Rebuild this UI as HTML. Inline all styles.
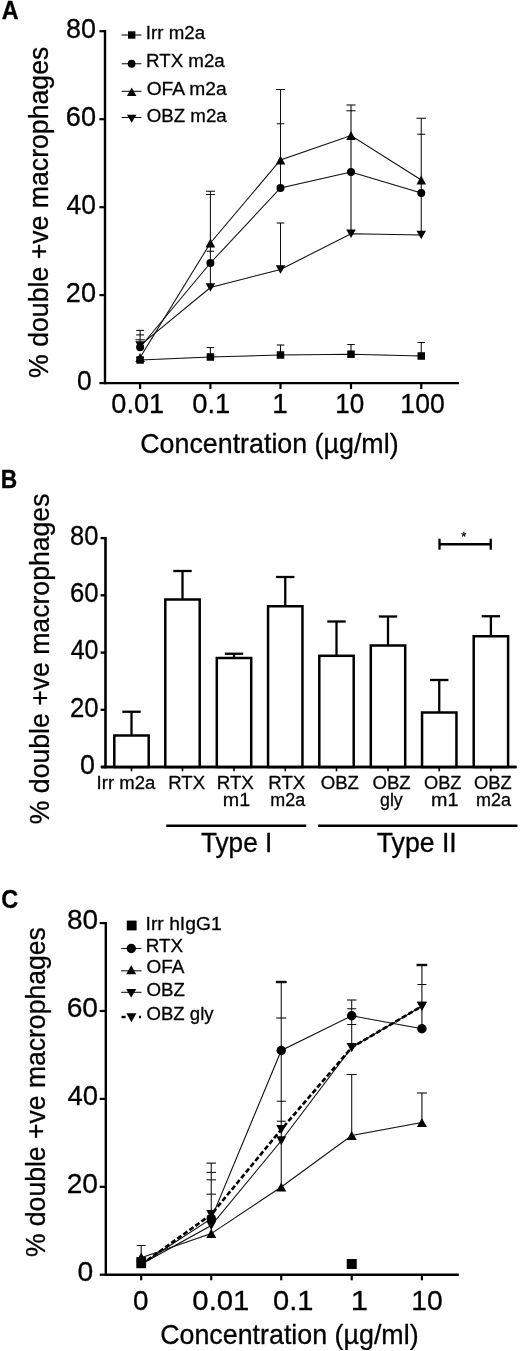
<!DOCTYPE html>
<html lang="en"><head><meta charset="utf-8"><title>Figure</title>
<style>
html,body{margin:0;padding:0;background:#fff;}
svg{display:block;}
svg text{font-family:"Liberation Sans", Arial, Helvetica, sans-serif;fill:#000;stroke:#000;stroke-width:0.3px;stroke-linejoin:round;}
</style></head><body>
<svg width="520" height="1351" viewBox="0 0 520 1351">
<rect width="520" height="1351" fill="#fff"/>
<defs><filter id="soft" x="0" y="0" width="520" height="1351" filterUnits="userSpaceOnUse"><feGaussianBlur stdDeviation="0.45"/></filter></defs>
<g filter="url(#soft)">
<line x1="105.00" y1="30.00" x2="105.00" y2="384.30" stroke="#000" stroke-width="2.4" />
<line x1="105.00" y1="383.10" x2="459.00" y2="383.10" stroke="#000" stroke-width="2.4" />
<line x1="99.40" y1="31.20" x2="105.00" y2="31.20" stroke="#000" stroke-width="2.2" />
<text x="66.06" y="37.90" font-size="26.8" textLength="29.91" lengthAdjust="spacingAndGlyphs" >80</text>
<line x1="99.40" y1="119.20" x2="105.00" y2="119.20" stroke="#000" stroke-width="2.2" />
<text x="65.85" y="125.90" font-size="26.8" textLength="30.13" lengthAdjust="spacingAndGlyphs" >60</text>
<line x1="99.40" y1="207.20" x2="105.00" y2="207.20" stroke="#000" stroke-width="2.2" />
<text x="66.61" y="213.90" font-size="26.8" textLength="29.34" lengthAdjust="spacingAndGlyphs" >40</text>
<line x1="99.40" y1="295.10" x2="105.00" y2="295.10" stroke="#000" stroke-width="2.2" />
<text x="65.85" y="301.80" font-size="26.8" textLength="30.13" lengthAdjust="spacingAndGlyphs" >20</text>
<line x1="99.40" y1="383.10" x2="105.00" y2="383.10" stroke="#000" stroke-width="2.2" />
<text x="77.04" y="389.90" font-size="26.8" textLength="14.68" lengthAdjust="spacingAndGlyphs" >0</text>
<line x1="140.10" y1="383.10" x2="140.10" y2="389.00" stroke="#000" stroke-width="2.2" />
<line x1="210.40" y1="383.10" x2="210.40" y2="389.00" stroke="#000" stroke-width="2.2" />
<line x1="280.50" y1="383.10" x2="280.50" y2="389.00" stroke="#000" stroke-width="2.2" />
<line x1="351.00" y1="383.10" x2="351.00" y2="389.00" stroke="#000" stroke-width="2.2" />
<line x1="421.25" y1="383.10" x2="421.25" y2="389.00" stroke="#000" stroke-width="2.2" />
<text x="111.32" y="413.30" font-size="26.8" textLength="52.79" lengthAdjust="spacingAndGlyphs" >0.01</text>
<text x="192.20" y="413.30" font-size="26.8" textLength="38.08" lengthAdjust="spacingAndGlyphs" >0.1</text>
<text x="272.26" y="413.30" font-size="26.8" textLength="15.58" lengthAdjust="spacingAndGlyphs" >1</text>
<text x="335.20" y="413.30" font-size="26.8" textLength="29.04" lengthAdjust="spacingAndGlyphs" >10</text>
<text x="400.37" y="413.30" font-size="26.8" textLength="44.36" lengthAdjust="spacingAndGlyphs" >100</text>
<text x="140.26" y="452.60" font-size="27.8" textLength="258.33" lengthAdjust="spacingAndGlyphs" >Concentration (µg/ml)</text>
<text transform="translate(48.3,377) rotate(-90)" x="-0.93" y="0" font-size="27.8" textLength="331.27" lengthAdjust="spacingAndGlyphs">% double +ve macrophages</text>
<text x="1.72" y="19.10" font-size="25" font-weight="bold" textLength="16.82" lengthAdjust="spacingAndGlyphs" >A</text>
<line x1="121.70" y1="35.00" x2="141.40" y2="35.00" stroke="#0a0a0a" stroke-width="1.05" />
<line x1="121.70" y1="63.75" x2="141.40" y2="63.75" stroke="#0a0a0a" stroke-width="1.05" />
<line x1="121.70" y1="91.30" x2="141.40" y2="91.30" stroke="#0a0a0a" stroke-width="1.05" />
<line x1="121.70" y1="117.50" x2="141.40" y2="117.50" stroke="#0a0a0a" stroke-width="1.05" />
<rect x="128.00" y="31.30" width="7.4" height="7.4" fill="#000"/>
<circle cx="131.60" cy="63.75" r="3.9" fill="#000"/>
<polygon points="131.70,87.45 136.45,95.95 126.95,95.95" fill="#000"/>
<polygon points="131.70,122.80 136.45,114.80 126.95,114.80" fill="#000"/>
<text x="145.87" y="38.90" font-size="19.1" textLength="59.27" lengthAdjust="spacingAndGlyphs" >Irr m2a</text>
<text x="146.06" y="67.00" font-size="19.1" textLength="78.65" lengthAdjust="spacingAndGlyphs" >RTX m2a</text>
<text x="146.69" y="94.60" font-size="19.1" textLength="80.03" lengthAdjust="spacingAndGlyphs" >OFA m2a</text>
<text x="146.71" y="122.30" font-size="19.1" textLength="80.01" lengthAdjust="spacingAndGlyphs" >OBZ m2a</text>
<line x1="136.35" y1="357.50" x2="143.85" y2="357.50" stroke="#0a0a0a" stroke-width="1.05" />
<line x1="206.65" y1="347.50" x2="214.15" y2="347.50" stroke="#0a0a0a" stroke-width="1.05" />
<line x1="276.75" y1="345.00" x2="284.25" y2="345.00" stroke="#0a0a0a" stroke-width="1.05" />
<line x1="347.25" y1="344.50" x2="354.75" y2="344.50" stroke="#0a0a0a" stroke-width="1.05" />
<line x1="417.50" y1="342.50" x2="425.00" y2="342.50" stroke="#0a0a0a" stroke-width="1.05" />
<line x1="136.20" y1="330.40" x2="144.00" y2="330.40" stroke="#0a0a0a" stroke-width="1.05" />
<line x1="136.20" y1="334.90" x2="144.00" y2="334.90" stroke="#0a0a0a" stroke-width="1.05" />
<line x1="135.50" y1="339.80" x2="144.70" y2="339.80" stroke="#0a0a0a" stroke-width="1.05" />
<line x1="205.90" y1="191.25" x2="214.90" y2="191.25" stroke="#0a0a0a" stroke-width="1.05" />
<line x1="205.90" y1="194.50" x2="214.90" y2="194.50" stroke="#0a0a0a" stroke-width="1.05" />
<line x1="206.65" y1="251.25" x2="214.15" y2="251.25" stroke="#0a0a0a" stroke-width="1.05" />
<line x1="276.00" y1="89.50" x2="285.00" y2="89.50" stroke="#0a0a0a" stroke-width="1.05" />
<line x1="276.75" y1="123.75" x2="284.25" y2="123.75" stroke="#0a0a0a" stroke-width="1.05" />
<line x1="276.75" y1="223.00" x2="284.25" y2="223.00" stroke="#0a0a0a" stroke-width="1.05" />
<line x1="346.50" y1="105.00" x2="355.50" y2="105.00" stroke="#0a0a0a" stroke-width="1.05" />
<line x1="346.50" y1="110.75" x2="355.50" y2="110.75" stroke="#0a0a0a" stroke-width="1.05" />
<line x1="416.50" y1="118.25" x2="426.00" y2="118.25" stroke="#0a0a0a" stroke-width="1.05" />
<line x1="417.25" y1="134.25" x2="425.25" y2="134.25" stroke="#0a0a0a" stroke-width="1.05" />
<line x1="140.10" y1="330.40" x2="140.10" y2="350.00" stroke="#0a0a0a" stroke-width="1.05" />
<line x1="140.10" y1="357.50" x2="140.10" y2="360.00" stroke="#0a0a0a" stroke-width="1.05" />
<line x1="210.40" y1="191.25" x2="210.40" y2="287.50" stroke="#0a0a0a" stroke-width="1.05" />
<line x1="210.40" y1="347.50" x2="210.40" y2="357.00" stroke="#0a0a0a" stroke-width="1.05" />
<line x1="280.50" y1="89.50" x2="280.50" y2="188.00" stroke="#0a0a0a" stroke-width="1.05" />
<line x1="280.50" y1="223.00" x2="280.50" y2="269.50" stroke="#0a0a0a" stroke-width="1.05" />
<line x1="280.50" y1="345.00" x2="280.50" y2="355.00" stroke="#0a0a0a" stroke-width="1.05" />
<line x1="351.00" y1="105.00" x2="351.00" y2="233.75" stroke="#0a0a0a" stroke-width="1.05" />
<line x1="351.00" y1="344.50" x2="351.00" y2="354.25" stroke="#0a0a0a" stroke-width="1.05" />
<line x1="421.25" y1="118.25" x2="421.25" y2="235.00" stroke="#0a0a0a" stroke-width="1.05" />
<line x1="421.25" y1="342.50" x2="421.25" y2="356.00" stroke="#0a0a0a" stroke-width="1.05" />
<polyline points="140.10,360.00 210.40,357.00 280.50,355.00 351.00,354.25 421.25,356.00" fill="none" stroke="#0a0a0a" stroke-width="1.05" />
<polyline points="140.10,347.25 210.40,263.00 280.50,188.00 351.00,172.00 421.25,193.00" fill="none" stroke="#0a0a0a" stroke-width="1.05" />
<polyline points="140.10,357.50 210.40,243.00 280.50,160.00 351.00,135.50 421.25,180.00" fill="none" stroke="#0a0a0a" stroke-width="1.05" />
<polyline points="140.10,345.40 210.40,287.50 280.50,269.50 351.00,233.75 421.25,235.00" fill="none" stroke="#0a0a0a" stroke-width="1.05" />
<rect x="136.35" y="356.25" width="7.5" height="7.5" fill="#000"/>
<rect x="206.65" y="353.25" width="7.5" height="7.5" fill="#000"/>
<rect x="276.75" y="351.25" width="7.5" height="7.5" fill="#000"/>
<rect x="347.25" y="350.50" width="7.5" height="7.5" fill="#000"/>
<rect x="417.50" y="352.25" width="7.5" height="7.5" fill="#000"/>
<circle cx="140.10" cy="347.25" r="4" fill="#000"/>
<circle cx="210.40" cy="263.00" r="4" fill="#000"/>
<circle cx="280.50" cy="188.00" r="4" fill="#000"/>
<circle cx="351.00" cy="172.00" r="4" fill="#000"/>
<circle cx="421.25" cy="193.00" r="4" fill="#000"/>
<polygon points="140.10,353.00 144.85,362.00 135.35,362.00" fill="#000"/>
<polygon points="210.40,238.50 215.15,247.50 205.65,247.50" fill="#000"/>
<polygon points="280.50,155.50 285.25,164.50 275.75,164.50" fill="#000"/>
<polygon points="351.00,131.00 355.75,140.00 346.25,140.00" fill="#000"/>
<polygon points="421.25,175.50 426.00,184.50 416.50,184.50" fill="#000"/>
<polygon points="140.10,349.65 144.85,341.15 135.35,341.15" fill="#000"/>
<polygon points="210.40,291.75 215.15,283.25 205.65,283.25" fill="#000"/>
<polygon points="280.50,273.75 285.25,265.25 275.75,265.25" fill="#000"/>
<polygon points="351.00,238.00 355.75,229.50 346.25,229.50" fill="#000"/>
<polygon points="421.25,239.25 426.00,230.75 416.50,230.75" fill="#000"/>
<line x1="105.50" y1="536.90" x2="105.50" y2="768.30" stroke="#000" stroke-width="2.6" />
<line x1="101.00" y1="767.00" x2="516.50" y2="767.00" stroke="#000" stroke-width="2.6" />
<line x1="100.60" y1="538.10" x2="105.50" y2="538.10" stroke="#000" stroke-width="2.3" />
<text x="70.11" y="544.80" font-size="26.8" textLength="28.40" lengthAdjust="spacingAndGlyphs" >80</text>
<line x1="100.60" y1="595.30" x2="105.50" y2="595.30" stroke="#000" stroke-width="2.3" />
<text x="69.91" y="602.00" font-size="26.8" textLength="28.61" lengthAdjust="spacingAndGlyphs" >60</text>
<line x1="100.60" y1="652.60" x2="105.50" y2="652.60" stroke="#000" stroke-width="2.3" />
<text x="70.64" y="659.30" font-size="26.8" textLength="27.86" lengthAdjust="spacingAndGlyphs" >40</text>
<line x1="100.60" y1="709.80" x2="105.50" y2="709.80" stroke="#000" stroke-width="2.3" />
<text x="69.91" y="716.50" font-size="26.8" textLength="28.61" lengthAdjust="spacingAndGlyphs" >20</text>
<line x1="100.60" y1="767.00" x2="105.50" y2="767.00" stroke="#000" stroke-width="2.3" />
<text x="80.03" y="773.80" font-size="26.8" textLength="14.91" lengthAdjust="spacingAndGlyphs" >0</text>
<text x="0.66" y="487.90" font-size="25" font-weight="bold" textLength="16.46" lengthAdjust="spacingAndGlyphs" >B</text>
<text transform="translate(48.7,823.3) rotate(-90)" x="-0.93" y="0" font-size="27.8" textLength="330.67" lengthAdjust="spacingAndGlyphs">% double +ve macrophages</text>
<line x1="131.50" y1="735.50" x2="131.50" y2="711.75" stroke="#000" stroke-width="2.3" />
<line x1="122.30" y1="711.75" x2="140.70" y2="711.75" stroke="#000" stroke-width="2.3" />
<rect x="114.30" y="735.50" width="34.4" height="31.50" fill="#fff" stroke="#000" stroke-width="2.5"/>
<line x1="131.50" y1="767.00" x2="131.50" y2="771.30" stroke="#000" stroke-width="1.6" />
<line x1="182.50" y1="599.50" x2="182.50" y2="571.00" stroke="#000" stroke-width="2.3" />
<line x1="173.30" y1="571.00" x2="191.70" y2="571.00" stroke="#000" stroke-width="2.3" />
<rect x="165.30" y="599.50" width="34.4" height="167.50" fill="#fff" stroke="#000" stroke-width="2.5"/>
<line x1="182.50" y1="767.00" x2="182.50" y2="771.30" stroke="#000" stroke-width="1.6" />
<line x1="234.00" y1="658.00" x2="234.00" y2="653.75" stroke="#000" stroke-width="2.3" />
<line x1="224.80" y1="653.75" x2="243.20" y2="653.75" stroke="#000" stroke-width="2.3" />
<rect x="216.80" y="658.00" width="34.4" height="109.00" fill="#fff" stroke="#000" stroke-width="2.5"/>
<line x1="234.00" y1="767.00" x2="234.00" y2="771.30" stroke="#000" stroke-width="1.6" />
<line x1="285.25" y1="606.25" x2="285.25" y2="577.00" stroke="#000" stroke-width="2.3" />
<line x1="276.05" y1="577.00" x2="294.45" y2="577.00" stroke="#000" stroke-width="2.3" />
<rect x="268.05" y="606.25" width="34.4" height="160.75" fill="#fff" stroke="#000" stroke-width="2.5"/>
<line x1="285.25" y1="767.00" x2="285.25" y2="771.30" stroke="#000" stroke-width="1.6" />
<line x1="336.50" y1="655.80" x2="336.50" y2="621.50" stroke="#000" stroke-width="2.3" />
<line x1="327.30" y1="621.50" x2="345.70" y2="621.50" stroke="#000" stroke-width="2.3" />
<rect x="319.30" y="655.80" width="34.4" height="111.20" fill="#fff" stroke="#000" stroke-width="2.5"/>
<line x1="336.50" y1="767.00" x2="336.50" y2="771.30" stroke="#000" stroke-width="1.6" />
<line x1="388.00" y1="645.50" x2="388.00" y2="616.50" stroke="#000" stroke-width="2.3" />
<line x1="378.80" y1="616.50" x2="397.20" y2="616.50" stroke="#000" stroke-width="2.3" />
<rect x="370.80" y="645.50" width="34.4" height="121.50" fill="#fff" stroke="#000" stroke-width="2.5"/>
<line x1="388.00" y1="767.00" x2="388.00" y2="771.30" stroke="#000" stroke-width="1.6" />
<line x1="439.25" y1="712.50" x2="439.25" y2="680.00" stroke="#000" stroke-width="2.3" />
<line x1="430.05" y1="680.00" x2="448.45" y2="680.00" stroke="#000" stroke-width="2.3" />
<rect x="422.05" y="712.50" width="34.4" height="54.50" fill="#fff" stroke="#000" stroke-width="2.5"/>
<line x1="439.25" y1="767.00" x2="439.25" y2="771.30" stroke="#000" stroke-width="1.6" />
<line x1="490.90" y1="636.25" x2="490.90" y2="616.25" stroke="#000" stroke-width="2.3" />
<line x1="481.70" y1="616.25" x2="500.10" y2="616.25" stroke="#000" stroke-width="2.3" />
<rect x="473.70" y="636.25" width="34.4" height="130.75" fill="#fff" stroke="#000" stroke-width="2.5"/>
<line x1="490.90" y1="767.00" x2="490.90" y2="771.30" stroke="#000" stroke-width="1.6" />
<line x1="101.00" y1="767.00" x2="516.50" y2="767.00" stroke="#000" stroke-width="2.6" />
<line x1="439.50" y1="544.25" x2="490.75" y2="544.25" stroke="#000" stroke-width="2.3" />
<line x1="439.50" y1="538.70" x2="439.50" y2="549.70" stroke="#000" stroke-width="2.3" />
<line x1="490.75" y1="538.70" x2="490.75" y2="549.70" stroke="#000" stroke-width="2.3" />
<text x="463.9" y="541" font-size="13" text-anchor="middle">*</text>
<text x="96.58" y="788.60" font-size="19.1" textLength="58.75" lengthAdjust="spacingAndGlyphs" >Irr m2a</text>
<text x="168.27" y="788.60" font-size="19.1" textLength="36.84" lengthAdjust="spacingAndGlyphs" >RTX</text>
<text x="216.76" y="788.60" font-size="19.1" textLength="37.11" lengthAdjust="spacingAndGlyphs" >RTX</text>
<text x="268.26" y="788.60" font-size="19.1" textLength="37.05" lengthAdjust="spacingAndGlyphs" >RTX</text>
<text x="320.66" y="788.60" font-size="19.1" textLength="38.36" lengthAdjust="spacingAndGlyphs" >OBZ</text>
<text x="372.41" y="788.60" font-size="19.1" textLength="38.36" lengthAdjust="spacingAndGlyphs" >OBZ</text>
<text x="423.93" y="788.60" font-size="19.1" textLength="37.58" lengthAdjust="spacingAndGlyphs" >OBZ</text>
<text x="473.92" y="788.60" font-size="19.1" textLength="37.94" lengthAdjust="spacingAndGlyphs" >OBZ</text>
<text x="222.72" y="806.40" font-size="19.1" textLength="27.39" lengthAdjust="spacingAndGlyphs" >m1</text>
<text x="270.34" y="806.40" font-size="19.1" textLength="34.87" lengthAdjust="spacingAndGlyphs" >m2a</text>
<text x="380.04" y="806.40" font-size="19.1" textLength="22.71" lengthAdjust="spacingAndGlyphs" >gly</text>
<text x="430.97" y="806.40" font-size="19.1" textLength="27.39" lengthAdjust="spacingAndGlyphs" >m1</text>
<text x="476.08" y="806.40" font-size="19.1" textLength="35.02" lengthAdjust="spacingAndGlyphs" >m2a</text>
<line x1="166.25" y1="825.70" x2="306.25" y2="825.70" stroke="#000" stroke-width="2.4" />
<line x1="318.00" y1="825.70" x2="517.50" y2="825.70" stroke="#000" stroke-width="2.4" />
<text x="201.01" y="852.00" font-size="27" textLength="71.24" lengthAdjust="spacingAndGlyphs" >Type I</text>
<text x="376.80" y="852.00" font-size="27" textLength="79.94" lengthAdjust="spacingAndGlyphs" >Type II</text>
<line x1="105.80" y1="922.00" x2="105.80" y2="1275.90" stroke="#000" stroke-width="2.4" />
<line x1="105.80" y1="1274.70" x2="458.80" y2="1274.70" stroke="#000" stroke-width="2.4" />
<line x1="99.70" y1="923.10" x2="105.80" y2="923.10" stroke="#000" stroke-width="2.2" />
<text x="66.91" y="929.40" font-size="28" textLength="31.10" lengthAdjust="spacingAndGlyphs" >80</text>
<line x1="99.70" y1="1011.00" x2="105.80" y2="1011.00" stroke="#000" stroke-width="2.2" />
<text x="66.69" y="1017.30" font-size="28" textLength="31.33" lengthAdjust="spacingAndGlyphs" >60</text>
<line x1="99.70" y1="1098.90" x2="105.80" y2="1098.90" stroke="#000" stroke-width="2.2" />
<text x="67.48" y="1105.20" font-size="28" textLength="30.51" lengthAdjust="spacingAndGlyphs" >40</text>
<line x1="99.70" y1="1186.80" x2="105.80" y2="1186.80" stroke="#000" stroke-width="2.2" />
<text x="66.69" y="1193.10" font-size="28" textLength="31.33" lengthAdjust="spacingAndGlyphs" >20</text>
<line x1="99.70" y1="1274.70" x2="105.80" y2="1274.70" stroke="#000" stroke-width="2.2" />
<text x="77.57" y="1281.10" font-size="28" textLength="15.72" lengthAdjust="spacingAndGlyphs" >0</text>
<line x1="141.20" y1="1274.70" x2="141.20" y2="1280.30" stroke="#000" stroke-width="2.2" />
<line x1="211.25" y1="1274.70" x2="211.25" y2="1280.30" stroke="#000" stroke-width="2.2" />
<line x1="281.25" y1="1274.70" x2="281.25" y2="1280.30" stroke="#000" stroke-width="2.2" />
<line x1="351.70" y1="1274.70" x2="351.70" y2="1280.30" stroke="#000" stroke-width="2.2" />
<line x1="421.90" y1="1274.70" x2="421.90" y2="1280.30" stroke="#000" stroke-width="2.2" />
<text x="133.09" y="1309.70" font-size="28" textLength="15.49" lengthAdjust="spacingAndGlyphs" >0</text>
<text x="192.33" y="1309.70" font-size="28" textLength="57.08" lengthAdjust="spacingAndGlyphs" >0.01</text>
<text x="273.14" y="1309.70" font-size="28" textLength="40.43" lengthAdjust="spacingAndGlyphs" >0.1</text>
<text x="350.89" y="1309.70" font-size="28" textLength="17.30" lengthAdjust="spacingAndGlyphs" >1</text>
<text x="411.20" y="1309.70" font-size="28" textLength="31.42" lengthAdjust="spacingAndGlyphs" >10</text>
<text x="160.16" y="1343.60" font-size="27.8" textLength="258.43" lengthAdjust="spacingAndGlyphs" >Concentration (µg/ml)</text>
<text transform="translate(45.4,1256.2) rotate(-90)" x="-0.93" y="0" font-size="27.8" textLength="329.86" lengthAdjust="spacingAndGlyphs">% double +ve macrophages</text>
<text x="1.26" y="907.90" font-size="25" font-weight="bold" textLength="16.98" lengthAdjust="spacingAndGlyphs" >C</text>
<line x1="121.20" y1="948.50" x2="141.50" y2="948.50" stroke="#0a0a0a" stroke-width="1.05" />
<line x1="121.20" y1="970.80" x2="141.50" y2="970.80" stroke="#0a0a0a" stroke-width="1.05" />
<line x1="121.20" y1="992.30" x2="141.50" y2="992.30" stroke="#0a0a0a" stroke-width="1.05" />
<line x1="121.50" y1="1017.00" x2="125.60" y2="1017.00" stroke="#000" stroke-width="2.4" />
<line x1="139.00" y1="1017.00" x2="141.00" y2="1017.00" stroke="#000" stroke-width="2.4" />
<rect x="126.80" y="920.60" width="9.8" height="9.8" fill="#000"/>
<circle cx="131.30" cy="948.50" r="4.7" fill="#000"/>
<polygon points="131.20,965.20 136.20,974.20 126.20,974.20" fill="#000"/>
<polygon points="131.20,997.70 136.20,989.10 126.20,989.10" fill="#000"/>
<polygon points="131.40,1022.20 136.40,1013.20 126.40,1013.20" fill="#000"/>
<text x="145.62" y="929.90" font-size="19.1" textLength="76.00" lengthAdjust="spacingAndGlyphs" >Irr hIgG1</text>
<text x="145.84" y="952.30" font-size="19.1" textLength="37.37" lengthAdjust="spacingAndGlyphs" >RTX</text>
<text x="146.50" y="973.10" font-size="19.1" textLength="37.96" lengthAdjust="spacingAndGlyphs" >OFA</text>
<text x="146.51" y="995.50" font-size="19.1" textLength="38.46" lengthAdjust="spacingAndGlyphs" >OBZ</text>
<text x="146.52" y="1019.70" font-size="19.1" textLength="67.02" lengthAdjust="spacingAndGlyphs" >OBZ gly</text>
<line x1="136.70" y1="1245.50" x2="145.70" y2="1245.50" stroke="#0a0a0a" stroke-width="1.05" />
<line x1="206.50" y1="1163.10" x2="216.00" y2="1163.10" stroke="#0a0a0a" stroke-width="1.05" />
<line x1="206.50" y1="1172.40" x2="216.00" y2="1172.40" stroke="#0a0a0a" stroke-width="1.05" />
<line x1="206.50" y1="1179.80" x2="216.00" y2="1179.80" stroke="#0a0a0a" stroke-width="1.05" />
<line x1="206.50" y1="1194.20" x2="216.00" y2="1194.20" stroke="#0a0a0a" stroke-width="1.05" />
<line x1="275.88" y1="982.00" x2="286.62" y2="982.00" stroke="#0a0a0a" stroke-width="2.4" />
<line x1="276.25" y1="1018.00" x2="286.25" y2="1018.00" stroke="#0a0a0a" stroke-width="1.05" />
<line x1="276.75" y1="1101.25" x2="285.75" y2="1101.25" stroke="#0a0a0a" stroke-width="1.05" />
<line x1="276.75" y1="1121.25" x2="285.75" y2="1121.25" stroke="#0a0a0a" stroke-width="1.05" />
<line x1="346.95" y1="1000.00" x2="356.45" y2="1000.00" stroke="#0a0a0a" stroke-width="1.05" />
<line x1="347.20" y1="1008.75" x2="356.20" y2="1008.75" stroke="#0a0a0a" stroke-width="1.05" />
<line x1="347.20" y1="1024.50" x2="356.20" y2="1024.50" stroke="#0a0a0a" stroke-width="1.05" />
<line x1="346.70" y1="1074.50" x2="356.70" y2="1074.50" stroke="#0a0a0a" stroke-width="1.05" />
<line x1="416.52" y1="965.00" x2="427.27" y2="965.00" stroke="#0a0a0a" stroke-width="2.4" />
<line x1="417.40" y1="984.50" x2="426.40" y2="984.50" stroke="#0a0a0a" stroke-width="1.05" />
<line x1="416.90" y1="1093.00" x2="426.90" y2="1093.00" stroke="#0a0a0a" stroke-width="1.05" />
<line x1="141.20" y1="1245.50" x2="141.20" y2="1262.00" stroke="#0a0a0a" stroke-width="1.05" />
<line x1="211.25" y1="1163.10" x2="211.25" y2="1233.00" stroke="#0a0a0a" stroke-width="1.05" />
<line x1="281.25" y1="982.00" x2="281.25" y2="1187.00" stroke="#0a0a0a" stroke-width="1.05" />
<line x1="351.70" y1="1000.00" x2="351.70" y2="1047.50" stroke="#0a0a0a" stroke-width="1.05" />
<line x1="351.70" y1="1074.50" x2="351.70" y2="1135.50" stroke="#0a0a0a" stroke-width="1.05" />
<line x1="421.90" y1="965.00" x2="421.90" y2="1028.75" stroke="#0a0a0a" stroke-width="1.05" />
<line x1="421.90" y1="1093.00" x2="421.90" y2="1122.50" stroke="#0a0a0a" stroke-width="1.05" />
<polyline points="141.20,1264.30 211.25,1218.70 281.25,1050.50 351.70,1015.75 421.90,1028.75" fill="none" stroke="#0a0a0a" stroke-width="1.05" />
<polyline points="141.20,1257.80 211.25,1233.60 281.25,1187.00 351.70,1135.50 421.90,1122.50" fill="none" stroke="#0a0a0a" stroke-width="1.05" />
<polyline points="141.20,1264.30 211.25,1225.50 281.25,1140.75 351.70,1047.50 421.90,1006.25" fill="none" stroke="#0a0a0a" stroke-width="1.05" />
<polyline points="141.20,1264.60 211.25,1214.50 281.25,1129.50 351.70,1047.50 421.90,1006.25" fill="none" stroke="#000" stroke-width="2.6" stroke-dasharray="5 2.4"/>
<rect x="346.75" y="1259.00" width="10" height="10" fill="#000"/>
<circle cx="211.25" cy="1218.70" r="4.75" fill="#000"/>
<circle cx="281.25" cy="1050.50" r="4.75" fill="#000"/>
<circle cx="351.70" cy="1015.75" r="4.75" fill="#000"/>
<circle cx="421.90" cy="1028.75" r="4.75" fill="#000"/>
<polygon points="141.20,1252.50 146.20,1261.50 136.20,1261.50" fill="#000"/>
<polygon points="211.25,1229.10 216.25,1238.10 206.25,1238.10" fill="#000"/>
<polygon points="281.25,1182.50 286.25,1191.50 276.25,1191.50" fill="#000"/>
<polygon points="351.70,1131.00 356.70,1140.00 346.70,1140.00" fill="#000"/>
<polygon points="421.90,1118.00 426.90,1127.00 416.90,1127.00" fill="#000"/>
<polygon points="211.25,1230.00 216.25,1221.00 206.25,1221.00" fill="#000"/>
<polygon points="281.25,1145.25 286.25,1136.25 276.25,1136.25" fill="#000"/>
<polygon points="351.70,1052.00 356.70,1043.00 346.70,1043.00" fill="#000"/>
<polygon points="421.90,1010.75 426.90,1001.75 416.90,1001.75" fill="#000"/>
<polygon points="211.25,1219.00 216.25,1210.00 206.25,1210.00" fill="#000"/>
<polygon points="281.25,1134.00 286.25,1125.00 276.25,1125.00" fill="#000"/>
<polygon points="351.70,1052.00 356.70,1043.00 346.70,1043.00" fill="#000"/>
<polygon points="421.90,1010.75 426.90,1001.75 416.90,1001.75" fill="#000"/>
<rect x="136.3" y="1257.1" width="9.8" height="11.1" fill="#000"/>
</g>
</svg>
</body></html>
